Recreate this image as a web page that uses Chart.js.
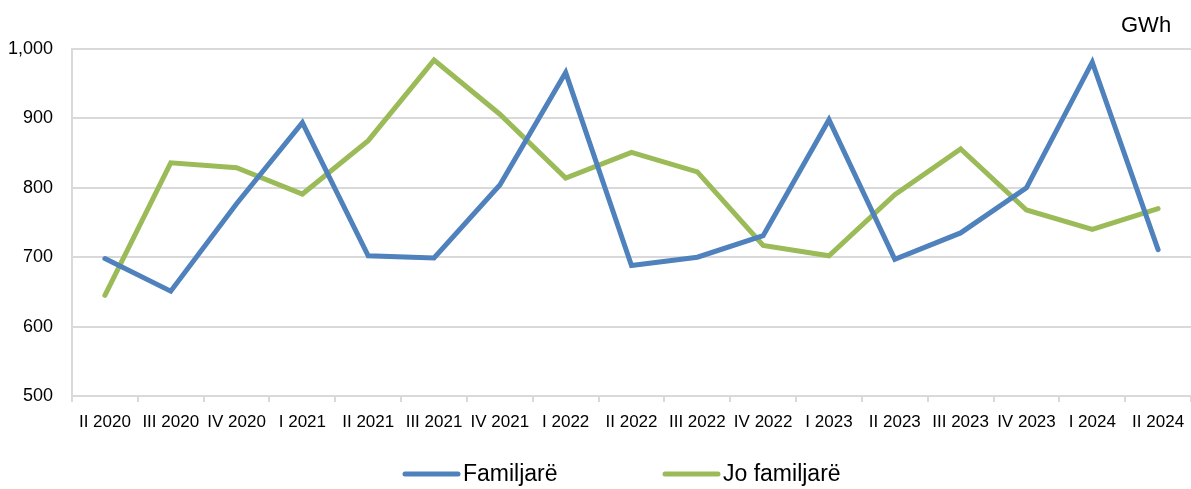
<!DOCTYPE html>
<html>
<head>
<meta charset="utf-8">
<script src="https://cdn.jsdelivr.net/npm/chart.js@4/dist/chart.umd.min.js"></script>
<style>
  html, body { margin: 0; padding: 0; background: #fff; }
  #wrap { width: 1191px; height: 489px; position: relative; }
</style>
</head>
<body>
<div id="wrap"><canvas id="c" width="1191" height="489"></canvas></div>
<script>
const categories = ["II 2020","III 2020","IV 2020","I 2021","II 2021","III 2021","IV 2021","I 2022","II 2022","III 2022","IV 2022","I 2023","II 2023","III 2023","IV 2023","I 2024","II 2024"];
const familjare = [698, 651, 777, 894, 702, 699, 804, 966, 688, 700, 731, 898, 697, 735, 800, 981, 711];
const joFamiljare = [645, 836, 829, 791, 868, 984, 906, 814, 851, 823, 717, 702, 790, 856, 768, 740, 770];
const seriesNames = ["Familjarë", "Jo familjarë"];
const unitLabel = "GWh";

const FONT = "'Liberation Sans', Arial, sans-serif";
const BLUE = "#4F81BD";
const GREEN = "#9BBB59";

const customLegend = {
  id: 'customLegend',
  afterDraw(chart) {
    const ctx = chart.ctx;
    ctx.save();
    ctx.fillStyle = '#000';
    ctx.font = "22px " + FONT;
    ctx.textBaseline = 'middle';
    ctx.textAlign = 'left';
    ctx.fillText(unitLabel, 1121, 26);
    ctx.font = "23px " + FONT;
    const items = [
      { x: 405, color: BLUE, text: chart.data.datasets[0].label },
      { x: 665, color: GREEN, text: chart.data.datasets[1].label }
    ];
    const y = 474;
    items.forEach(it => {
      ctx.strokeStyle = it.color;
      ctx.lineWidth = 5;
      ctx.lineCap = 'round';
      ctx.beginPath();
      ctx.moveTo(it.x, y);
      ctx.lineTo(it.x + 53, y);
      ctx.stroke();
      ctx.fillStyle = '#000';
      ctx.fillText(it.text, it.x + 58, y + 1);
    });
    ctx.restore();
  }
};

new Chart(document.getElementById('c'), {
  type: 'line',
  data: {
    labels: categories,
    datasets: [
      { label: seriesNames[0], data: familjare, borderColor: BLUE, backgroundColor: BLUE,
        borderWidth: 5, pointRadius: 0, tension: 0, borderCapStyle: 'round', borderJoinStyle: 'miter' },
      { label: seriesNames[1], data: joFamiljare, borderColor: GREEN, backgroundColor: GREEN,
        borderWidth: 5, pointRadius: 0, tension: 0, borderCapStyle: 'round', borderJoinStyle: 'miter' }
    ]
  },
  options: {
    responsive: false,
    animation: false,
    devicePixelRatio: 1,
    layout: { padding: { top: 49, left: 0, right: -6, bottom: 53 } },
    plugins: { legend: { display: false }, tooltip: { enabled: false } },
    scales: {
      x: {
        offset: true,
        grid: { display: true, drawOnChartArea: false, drawTicks: true, tickLength: 6, color: '#d9d9d9', lineWidth: 2, offset: true },
        border: { display: true, color: '#d9d9d9', width: 2 },
        ticks: { color: '#000', font: { family: FONT, size: 17 }, maxRotation: 0, autoSkip: false, padding: 10 },
        afterFit(scale) { scale.height = 40; scale.paddingRight = 0; scale.paddingLeft = 0; }
      },
      y: {
        min: 500, max: 1000,
        grid: { color: '#d9d9d9', lineWidth: 2, drawTicks: false },
        border: { display: true, color: '#d9d9d9', width: 2 },
        ticks: { stepSize: 100, color: '#000', font: { family: FONT, size: 18 }, padding: 19,
          callback: v => v.toLocaleString('en-US') },
        afterFit(scale) { scale.width = 72; scale.paddingTop = 0; scale.paddingBottom = 0; }
      }
    }
  },
  plugins: [customLegend]
});
</script>
</body>
</html>
